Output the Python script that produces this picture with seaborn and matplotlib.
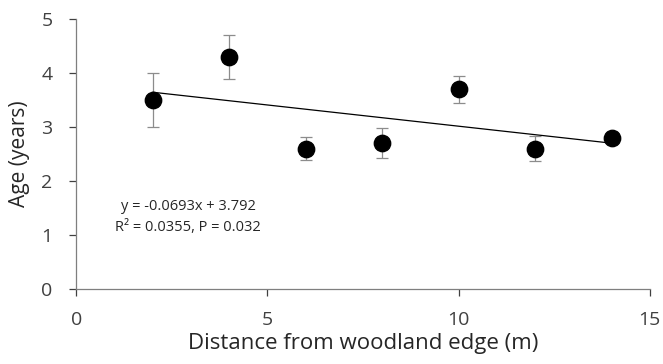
import matplotlib
matplotlib.use("Agg")
import matplotlib.pyplot as plt
import numpy as np
import pandas as pd
import seaborn as sns

# data
distance = [2, 4, 6, 8, 10, 12, 14]
age = [3.5, 4.3, 2.6, 2.7, 3.7, 2.6, 2.8]
age_err = [0.5, 0.41, 0.21, 0.28, 0.25, 0.23, 0.1]
x_ticks = [0, 5, 10, 15]
y_ticks = [0, 1, 2, 3, 4, 5]

df = pd.DataFrame({"distance": distance, "age": age, "err": age_err})

sns.set_style("white")
plt.rcParams["font.family"] = ["Open Sans", "DejaVu Sans"]

fig, ax = plt.subplots(figsize=(6.63, 3.64), dpi=100)

ax.errorbar(df["distance"], df["age"], yerr=df["err"], fmt="none",
            ecolor="#8c8c8c", elinewidth=0.9, capsize=4, capthick=0.9, zorder=2)
sns.regplot(data=df, x="distance", y="age", ci=None, scatter=False,
            truncate=True, line_kws={"color": "black", "lw": 0.9}, ax=ax)
sns.scatterplot(data=df, x="distance", y="age", color="black", s=140,
                edgecolor="black", zorder=3, ax=ax)

ax.set_xlim(0, 15)
ax.set_ylim(0, 5)
ax.set_xticks(x_ticks)
ax.set_yticks(y_ticks)
ax.tick_params(axis="both", labelsize=14, colors="#404040", length=5,
               width=0.9, direction="out", left=True, bottom=True)
ax.tick_params(axis="x", pad=11)
ax.tick_params(axis="y", pad=12)
for s in ["left", "bottom"]:
    ax.spines[s].set_color("#7f7f7f")
    ax.spines[s].set_linewidth(0.9)
sns.despine(ax=ax)

ax.set_xlabel("Distance from woodland edge (m)", fontsize=16, labelpad=3)
ax.set_ylabel("Age (years)", fontsize=15, labelpad=8)

ax.text(2.93, 1.52, "y = -0.0693x + 3.792", ha="center", va="center",
        fontsize=10.5, color="#262626")
ax.text(2.93, 1.13, "R² = 0.0355, P = 0.032", ha="center", va="center",
        fontsize=10.5, color="#262626")

plt.subplots_adjust(left=0.115, right=0.98, top=0.948, bottom=0.206)
plt.savefig("out.png", dpi=100)
